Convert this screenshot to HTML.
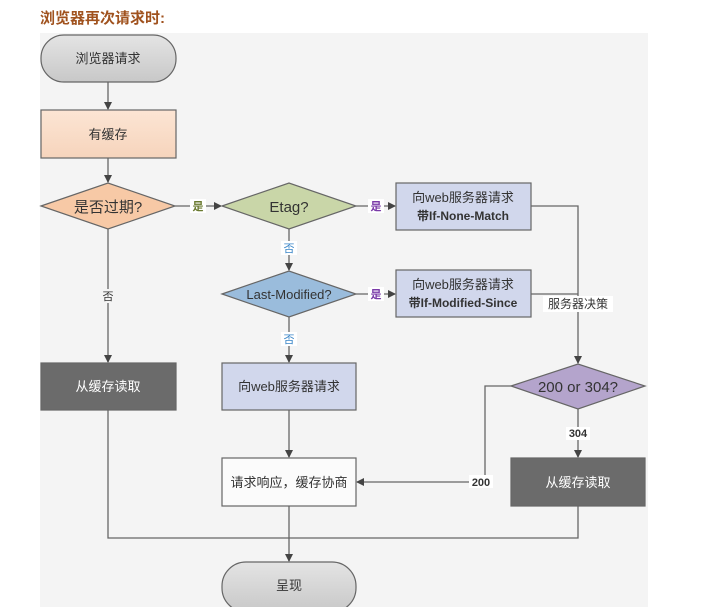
<!DOCTYPE html>
<html><head><meta charset="utf-8"><style>
html,body{margin:0;padding:0;background:#fff;width:702px;height:607px;overflow:hidden}
svg text{font-family:"Liberation Sans","Noto Sans CJK SC",sans-serif}
</style></head><body>
<svg width="702" height="607" xmlns="http://www.w3.org/2000/svg">
<defs>
<marker id="a" markerWidth="8" markerHeight="8" refX="7" refY="4" orient="auto" markerUnits="userSpaceOnUse"><path d="M0,0 L8,4 L0,8 z" fill="#444"/></marker>
<linearGradient id="g1" x1="0" y1="0" x2="0" y2="1"><stop offset="0" stop-color="#e4e4e4"/><stop offset="1" stop-color="#c8c8c8"/></linearGradient>
<linearGradient id="g2" x1="0" y1="0" x2="0" y2="1"><stop offset="0" stop-color="#fce5d4"/><stop offset="1" stop-color="#f6d4bc"/></linearGradient>
</defs>
<text x="40" y="23" font-size="15" font-weight="bold" fill="#a0521e">浏览器再次请求时:</text>
<rect x="40" y="33" width="608" height="574" fill="#f4f4f4"/>
<g stroke="#666" stroke-width="1.3" fill="none">
<line x1="108" y1="82" x2="108" y2="109" marker-end="url(#a)"/>
<line x1="108" y1="158" x2="108" y2="182" marker-end="url(#a)"/>
<line x1="175" y1="206" x2="221" y2="206" marker-end="url(#a)"/>
<line x1="356" y1="206" x2="395" y2="206" marker-end="url(#a)"/>
<line x1="289" y1="229" x2="289" y2="270" marker-end="url(#a)"/>
<line x1="356" y1="294" x2="395" y2="294" marker-end="url(#a)"/>
<line x1="289" y1="317" x2="289" y2="362" marker-end="url(#a)"/>
<line x1="108" y1="229" x2="108" y2="362" marker-end="url(#a)"/>
<polyline points="531,206 578,206 578,363" marker-end="url(#a)"/>
<line x1="531" y1="294" x2="578" y2="294"/>
<line x1="578" y1="409" x2="578" y2="457" marker-end="url(#a)"/>
<polyline points="511,386 485,386 485,482 357,482" marker-end="url(#a)"/>
<line x1="289" y1="410" x2="289" y2="457" marker-end="url(#a)"/>
<polyline points="108,410 108,538 578,538 578,506"/>
<line x1="289" y1="506" x2="289" y2="561" marker-end="url(#a)"/>
</g>
<g stroke="#666" stroke-width="1.2">
<rect x="41" y="35" width="135" height="47" rx="23" fill="url(#g1)"/>
<rect x="41" y="110" width="135" height="48" fill="url(#g2)"/>
<polygon points="41,206 108,183 175,206 108,229" fill="#f7c9a6"/>
<polygon points="222,206 289,183 356,206 289,229" fill="#c9d6a8"/>
<rect x="396" y="183" width="135" height="47" fill="#d1d7ec"/>
<polygon points="222,294 289,271 356,294 289,317" fill="#9abcdc"/>
<rect x="396" y="270" width="135" height="47" fill="#d1d7ec"/>
<rect x="41" y="363" width="135" height="47" fill="#6b6b6b"/>
<rect x="222" y="363" width="134" height="47" fill="#d1d7ec"/>
<polygon points="511,386 578,364 645,386 578,409" fill="#b4a4cc"/>
<rect x="222" y="458" width="134" height="48" fill="#fbfbfb"/>
<rect x="511" y="458" width="134" height="48" fill="#6b6b6b"/>
<rect x="222" y="562" width="134" height="50" rx="24" fill="url(#g1)"/>
</g>
<g font-size="13" fill="#333" text-anchor="middle">
<text x="108" y="63">浏览器请求</text>
<text x="108" y="139">有缓存</text>
<text x="108" y="212" font-size="15">是否过期?</text>
<text x="289" y="212" font-size="15">Etag?</text>
<text x="463" y="202">向web服务器请求</text>
<text x="463" y="220" font-weight="bold" font-size="12">带If-None-Match</text>
<text x="289" y="299" font-size="13">Last-Modified?</text>
<text x="463" y="289">向web服务器请求</text>
<text x="463" y="307" font-weight="bold" font-size="12">带If-Modified-Since</text>
<text x="108" y="391" fill="#fff">从缓存读取</text>
<text x="289" y="391">向web服务器请求</text>
<text x="578" y="392" font-size="15">200 or 304?</text>
<text x="289" y="487">请求响应，缓存协商</text>
<text x="578" y="487" fill="#fff">从缓存读取</text>
<text x="289" y="590">呈现</text>
</g>
<g font-size="11" text-anchor="middle">
<rect x="190" y="199" width="16" height="14" fill="#fff"/><text x="198" y="210" fill="#6a7a30" font-weight="bold">是</text>
<rect x="368" y="199" width="16" height="14" fill="#fff"/><text x="376" y="210" fill="#7a3aa8" font-weight="bold">是</text>
<rect x="368" y="287" width="16" height="14" fill="#fff"/><text x="376" y="298" fill="#7a3aa8" font-weight="bold">是</text>
<rect x="281" y="241" width="16" height="14" fill="#fff"/><text x="289" y="252" fill="#3a86c8">否</text>
<rect x="281" y="332" width="16" height="14" fill="#fff"/><text x="289" y="343" fill="#3a86c8">否</text>
<rect x="100" y="289" width="16" height="14" fill="#f4f4f4"/><text x="108" y="300" fill="#333">否</text>
<rect x="543" y="296" width="70" height="16" fill="#fff"/><text x="578" y="308" fill="#333" font-size="12">服务器决策</text>
<rect x="566" y="427" width="24" height="13" fill="#fff"/><text x="578" y="437" fill="#333" font-weight="bold">304</text>
<rect x="469" y="475" width="24" height="13" fill="#fff"/><text x="481" y="486" fill="#333" font-weight="bold">200</text>
</g>
</svg>
</body></html>
